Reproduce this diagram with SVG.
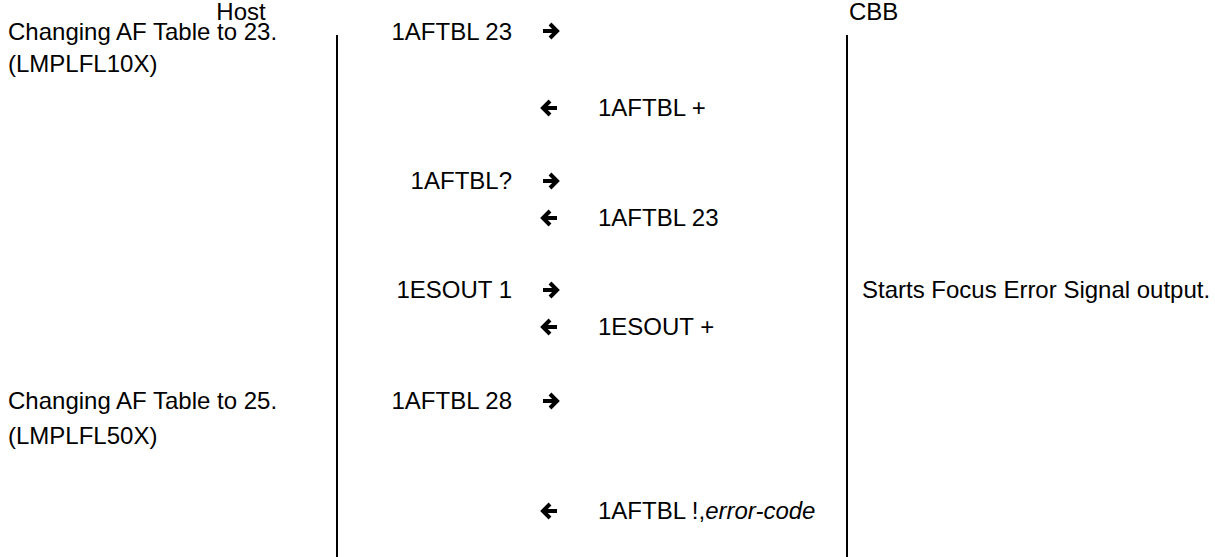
<svg xmlns="http://www.w3.org/2000/svg" width="1215" height="557" viewBox="0 0 1215 557">
<defs>
<style>
text{font-family:"Liberation Sans",Arial,sans-serif;font-size:24px;fill:#000}
.r{text-anchor:end}
.life{stroke:#000;stroke-width:2;fill:none}
.arr{stroke:#000;stroke-width:4;fill:none;stroke-linejoin:miter;stroke-linecap:butt}
</style>
<path id="ra" d="M0,0 H14 M7,-7 L14,0 L7,7"/>
<path id="la" d="M15,0 H1 M8,-7 L1,0 L8,7"/>
</defs>
<g id="host">
<text x="241" y="20" text-anchor="middle">Host</text>
</g>
<g id="cbb">
<text x="849" y="20">CBB</text>
</g>
<g id="connectors">
<line class="life" x1="337" y1="35" x2="337" y2="557"/>
<line class="life" x1="847" y1="35" x2="847" y2="557"/>
</g>
<g id="host-notes">
<text x="8" y="40">Changing AF Table to 23.</text>
<text x="8" y="72">(LMPLFL10X)</text>
<text x="8" y="409">Changing AF Table to 25.</text>
<text x="8" y="444">(LMPLFL50X)</text>
</g>
<g id="cbb-notes">
<text x="862" y="298">Starts Focus Error Signal output.</text>
</g>
<g id="messages">
<text class="r" x="512" y="40">1AFTBL 23</text>
<use href="#ra" class="arr" x="543" y="31"/>
<use href="#la" class="arr" x="542" y="108"/>
<text x="598" y="116">1AFTBL +</text>
<text class="r" x="512" y="189">1AFTBL?</text>
<use href="#ra" class="arr" x="543" y="181"/>
<use href="#la" class="arr" x="542" y="218"/>
<text x="598" y="226">1AFTBL 23</text>
<text class="r" x="512" y="298">1ESOUT 1</text>
<use href="#ra" class="arr" x="543" y="290"/>
<use href="#la" class="arr" x="542" y="327"/>
<text x="598" y="335">1ESOUT +</text>
<text class="r" x="512" y="409">1AFTBL 28</text>
<use href="#ra" class="arr" x="543" y="401"/>
<use href="#la" class="arr" x="542" y="511"/>
<text x="598" y="519">1AFTBL !,<tspan font-style="italic">error-code</tspan></text>
</g>
</svg>
